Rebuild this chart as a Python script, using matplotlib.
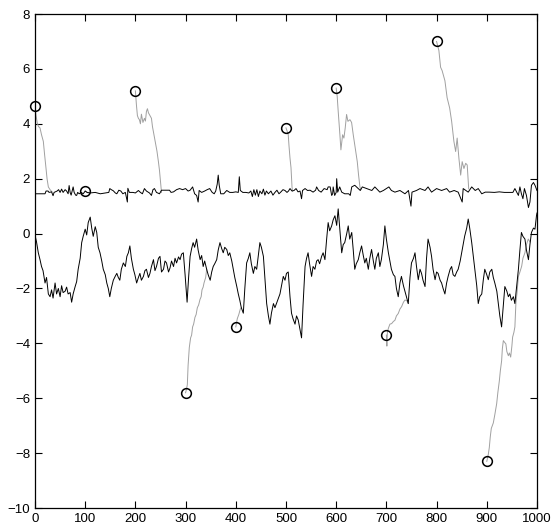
import matplotlib
matplotlib.use("Agg")
import matplotlib.pyplot as plt

# lower black trace (x, y)
lower = [
    (0, -0.05), (3, -0.3), (6.6, -0.7), (10, -0.95), (13, -1.2), (16, -1.35), (20, -1.8), (23, -1.6),
    (26.6, -2.2), (30, -2.3), (33, -2.05), (36, -2.35), (40, -1.8), (43, -2.2), (46.5, -2.0), (50, -2.3),
    (53, -1.9), (56, -2.15), (60, -2.1), (63, -1.95), (66, -2.2), (70, -2.15), (73, -2.5), (76, -2.2),
    (80, -1.93), (83, -1.75), (86, -1.3), (90, -0.9), (93, -0.33), (96, -0.1), (100, 0.16), (103, -0.05),
    (106, 0.4), (110, 0.6), (113, 0.2), (116, -0.1), (120, 0.25), (123, 0.04), (126, -0.5), (129.5, -0.7),
    (133, -1.0), (136, -1.3), (140, -1.5), (143, -1.8), (146, -2.0), (149, -2.3), (152, -2.0), (156, -1.7),
    (160, -1.55), (163, -1.45), (166, -1.6), (169, -1.7), (172, -1.3), (176, -1.07), (180, -1.2), (183, -0.83),
    (186, -0.7), (189, -0.45), (192, -0.9), (196, -1.3), (199, -1.5), (202.5, -1.8), (206, -1.6), (209, -1.45),
    (212, -1.7), (216, -1.56), (219, -1.35), (222, -1.3), (226, -1.6), (229, -1.45), (232, -1.2), (236, -0.95),
    (239, -1.35), (242, -1.2), (246, -0.9), (249, -0.83), (252, -1.4), (256, -1.3), (259, -1.0), (262, -1.07),
    (266, -1.4), (269, -1.25), (272, -1.0), (276, -1.2), (279, -0.9), (282, -1.07), (286, -0.85), (289, -0.95),
    (292, -0.75), (295.5, -0.7), (299, -1.5), (303, -2.5), (306, -1.6), (309, -0.83), (312, -0.55), (315, -0.33),
    (318, -0.5), (322, -0.2), (325, -0.6), (329, -0.95), (332, -0.8), (335, -1.2), (338, -1.0), (342, -1.3),
    (345, -1.5), (349, -1.7), (352, -1.4), (355, -1.2), (358, -1.1), (362, -0.95), (365, -0.6), (368.5, -0.33),
    (372, -0.55), (375, -0.7), (378, -0.5), (382, -0.58), (385, -0.8), (388, -0.7), (392, -1.0), (395, -1.3),
    (398, -1.6), (402, -1.93), (405, -2.2), (408, -2.43), (411, -2.7), (415, -2.9), (418, -2.0), (421.6, -1.07),
    (425, -0.9), (428, -0.7), (431, -1.1), (435, -1.45), (438, -1.2), (441.6, -1.3), (445, -0.8), (448, -0.33),
    (451, -0.5), (455, -0.83), (458, -1.6), (461.5, -2.55), (465, -3.0), (468, -3.3), (471, -2.9), (475, -2.55),
    (478, -2.7), (481, -2.55), (484, -2.4), (488, -2.2), (491, -1.9), (494.6, -1.56), (498, -1.7), (501, -1.45),
    (504.5, -1.4), (508, -2.3), (511, -2.9), (514, -3.1), (518, -3.3), (521, -3.0), (524.4, -3.15), (528, -3.5),
    (531, -3.8), (534, -2.6), (538, -1.2), (541, -0.9), (544, -0.7), (547, -1.1), (551, -1.56), (554, -1.2),
    (557.6, -1.3), (561, -1.0), (564, -0.95), (567, -1.1), (571, -0.83), (574, -0.7), (577.6, -0.95), (581, -0.2),
    (584, 0.4), (587, 0.1), (591, 0.28), (594, 0.5), (597.5, 0.65), (601, 0.3), (604, 0.9), (607, 0.2),
    (611, -0.7), (614, -0.4), (617, -0.33), (621, 0.0), (624, 0.28), (627, -0.2), (631, 0.04), (634, -0.6),
    (637, -1.3), (640, -1.1), (644, -0.95), (647, -0.7), (650.6, -0.45), (654, -0.8), (657, -1.07), (660, -0.9),
    (664, -1.3), (667, -0.9), (670.5, -0.58), (674, -1.0), (677, -1.3), (680, -0.9), (684, -0.7), (687, -1.2),
    (690, -0.95), (694, -0.4), (697, 0.28), (700, -0.2), (704, -0.7), (707, -1.0), (710, -1.3), (714, -1.5),
    (717, -1.56), (720, -2.0), (723.6, -2.3), (727, -1.8), (730, -1.56), (734, -1.9), (737, -2.1), (740, -2.3),
    (743.6, -2.55), (747, -1.6), (750, -1.07), (754, -0.9), (757, -0.7), (760, -1.2), (763.5, -1.68), (767, -1.3),
    (770, -1.45), (773, -1.7), (777, -1.93), (780, -0.9), (783, -0.2), (787, -0.5), (790, -0.83), (793, -1.3),
    (797, -1.68), (800, -1.4), (803, -1.45), (807, -1.7), (810, -1.8), (813, -2.0), (816.6, -2.2), (820, -1.8),
    (823, -1.56), (827, -1.3), (830, -1.2), (833, -1.5), (836.5, -1.56), (840, -1.4), (843, -1.3), (847, -1.0),
    (850, -0.7), (853, -0.4), (856, -0.09), (860, 0.2), (863, 0.53), (866, 0.2), (870, -0.33), (873, -0.8),
    (876, -1.3), (880, -1.9), (883, -2.55), (886, -2.3), (890, -2.2), (893, -1.7), (896, -1.3), (900, -1.5),
    (903, -1.68), (906, -1.4), (910, -1.3), (913, -1.6), (916, -1.8), (920, -2.1), (923, -2.55), (926, -3.0),
    (929.5, -3.4), (933, -2.6), (936, -1.93), (940, -2.1), (943, -2.3), (946, -2.2), (949, -2.43), (953, -2.3),
    (956, -2.55), (959, -2.0), (963, -1.3), (966, -0.6), (969, 0.04), (972, -0.1), (976, -0.2), (979, -0.6),
    (983, -0.95), (986, -0.4), (989, 0.04), (993, 0.2), (996, 0.16), (999, 0.65), (1000, 0.75),
]

# upper black trace (x, y), sits near 1.5
upper = [
    (0, 1.45), (20, 1.45), (22, 1.55), (26, 1.55), (28, 1.5), (33, 1.52), (36, 1.38), (38, 1.5), (44, 1.55),
    (47, 1.6), (50, 1.5), (53, 1.62), (56, 1.5), (60, 1.6), (63, 1.55), (66, 1.45), (68, 1.75), (70, 1.5),
    (72, 1.4), (74, 1.55), (76, 1.7), (78, 1.5), (81, 1.4), (83, 1.39), (85, 1.5), (88, 1.45), (92, 1.5),
    (96, 1.45), (100, 1.55), (104, 1.5), (110, 1.48), (120, 1.5), (130, 1.45), (140, 1.48), (147, 1.5),
    (149, 1.64), (152, 1.6), (156, 1.56), (160, 1.48), (163, 1.45), (167, 1.58), (171, 1.55), (175, 1.45),
    (180, 1.5), (184, 1.15), (185, 1.65), (188, 1.5), (195, 1.5), (200, 1.48), (206, 1.57), (210, 1.5),
    (214, 1.45), (218, 1.64), (222, 1.55), (228, 1.48), (232, 1.39), (235, 1.6), (238, 1.64), (242, 1.5),
    (248, 1.45), (252, 1.58), (260, 1.58), (268, 1.58), (271, 1.5), (276, 1.52), (282, 1.6), (288, 1.64),
    (294, 1.6), (300, 1.64), (305, 1.55), (309, 1.58), (314, 1.7), (318, 1.45), (322, 1.39), (325, 1.15),
    (327, 1.57), (332, 1.5), (338, 1.55), (343, 1.6), (348, 1.64), (353, 1.5), (357, 1.45), (360, 1.55),
    (363, 1.8), (365, 2.13), (367, 1.76), (370, 1.45), (376, 1.45), (382, 1.57), (388, 1.5), (394, 1.5),
    (400, 1.52), (405, 1.5), (407, 2.07), (409, 1.57), (414, 1.5), (420, 1.5), (426, 1.48), (430, 1.55),
    (433, 1.35), (436, 1.6), (439, 1.4), (442, 1.6), (445, 1.35), (448, 1.55), (452, 1.45), (455, 1.62),
    (458, 1.4), (461, 1.55), (465, 1.45), (470, 1.55), (474, 1.4), (478, 1.5), (482, 1.58), (486, 1.45),
    (490, 1.52), (494, 1.6), (498, 1.57), (502, 1.5), (505, 1.55), (508, 1.64), (512, 1.55), (516, 1.57),
    (520, 1.64), (524, 1.52), (528, 1.55), (531, 1.27), (533, 1.57), (538, 1.64), (543, 1.57), (548, 1.58),
    (554, 1.51), (559, 1.58), (561, 1.7), (565, 1.57), (570, 1.51), (576, 1.64), (582, 1.6), (584, 1.7),
    (588, 1.7), (591, 1.39), (593, 1.45), (594, 1.7), (597, 1.39), (600, 1.5), (601, 2.0), (603, 1.51),
    (607, 1.7), (611, 1.51), (617, 1.45), (625, 1.45), (628, 1.39), (631, 1.7), (637, 1.76), (644, 1.64),
    (648, 1.57), (652, 1.7), (661, 1.64), (671, 1.57), (677, 1.7), (687, 1.51), (694, 1.57), (705, 1.7),
    (710, 1.57), (717, 1.51), (727, 1.57), (737, 1.45), (744, 1.57), (749, 1.0), (751, 1.51), (760, 1.57),
    (767, 1.64), (777, 1.57), (783, 1.7), (790, 1.51), (800, 1.64), (810, 1.57), (820, 1.64), (826, 1.51),
    (835, 1.57), (843, 1.51), (851, 1.15), (853, 1.64), (863, 1.51), (870, 1.7), (877, 1.57), (883, 1.64),
    (890, 1.45), (897, 1.51), (905, 1.51), (915, 1.5), (925, 1.52), (935, 1.5), (945, 1.5), (952, 1.5),
    (956, 1.64), (963, 1.39), (966, 1.7), (969, 1.45), (972, 1.27), (975, 1.64), (979, 1.39), (983, 0.95),
    (986, 1.15), (989, 1.76), (993, 1.86), (996, 1.76), (1000, 1.57),
]

# gray trajectories, one per starting point
gray_0 = [(0, 4.65), (2, 4.3), (4.6, 4.03), (7, 3.9), (10, 3.85), (13, 3.6), (16.6, 3.36), (19, 2.9),
          (22, 2.37), (24, 2.0), (26.6, 1.7), (30, 1.6), (34, 1.52)]
gray_1 = [(100, 1.55), (103, 1.5), (106, 1.48)]
gray_2 = [(200, 5.2), (202, 4.7), (204, 4.3), (206, 4.2), (208, 4.15), (210, 4.0), (212, 4.35), (215, 4.05),
          (218, 4.2), (220, 4.1), (222, 4.45), (224, 4.55), (226, 4.4), (229, 4.3), (232, 4.2), (234, 3.9),
          (236, 3.7), (240, 3.3), (243, 3.0), (246, 2.6), (248, 2.3), (250, 1.9), (252, 1.5)]
gray_3 = [(300, -5.8), (302, -5.65), (303.5, -5.5), (305, -4.8), (307.4, -4.15), (310, -3.8), (312, -3.7),
          (314, -3.4), (316, -3.3), (318.7, -3.05), (321, -2.95), (323.4, -2.7), (326, -2.6), (328.7, -2.4),
          (331, -2.3), (332.7, -2.05), (335, -1.95), (336.7, -1.8), (340, -1.6), (342, -1.3)]
gray_4 = [(400, -3.4), (403, -3.1), (406, -2.95), (409, -2.75), (411, -2.7)]
gray_5 = [(500, 3.85), (502, 3.75), (504.5, 3.6), (506, 3.2), (508, 2.75), (510, 2.4), (512, 1.7), (513, 1.55)]
gray_6 = [(600, 5.3), (602, 5.0), (604, 4.46), (607.4, 3.6), (609.4, 3.05), (612.8, 3.6), (615.4, 3.48),
          (618, 3.85), (620.7, 4.34), (623.4, 4.09), (627.4, 4.15), (630.7, 4.05), (634, 3.6), (638, 3.11),
          (642, 2.62), (644.6, 2.13), (647.3, 1.7), (649, 1.6)]
gray_7 = [(700, -3.7), (701, -4.1), (702, -3.6), (704, -3.45), (707, -3.3), (710.5, -3.28), (714, -3.2),
          (717, -3.16), (720, -3.0), (723.7, -2.91), (727, -2.75), (730.4, -2.66), (734, -2.5), (737, -2.42),
          (741, -2.45), (743.6, -2.55)]
gray_8 = [(800, 7.0), (804.6, 6.67), (808, 6.06), (811, 5.94), (816.6, 5.57), (821, 4.95), (826, 4.58),
          (830, 4.09), (834.5, 3.36), (838, 2.99), (841, 3.48), (844.5, 2.74), (848, 2.13), (851, 2.62),
          (854.5, 2.37), (858, 2.56), (861, 2.5), (864, 1.63)]
gray_9 = [(900, -8.3), (903, -8.05), (905, -7.8), (907, -7.4), (909, -7.1), (913, -6.9), (916, -6.6),
          (919.7, -6.2), (922, -5.8), (925, -5.37), (927, -5.0), (929.6, -4.63), (931, -4.2), (933, -3.9),
          (935, -3.95), (938, -4.02), (940, -4.3), (943, -4.45), (945, -4.35), (947.6, -4.5), (950, -4.1),
          (951.5, -3.77), (954, -3.6), (956, -3.4), (958, -2.54), (960, -2.2), (963, -1.56), (966, -1.4),
          (969.5, -1.19), (972, -0.9), (976, -0.7), (979, -0.4), (982.7, -0.2), (986, -0.3)]
grays = [gray_0, gray_1, gray_2, gray_3, gray_4, gray_5, gray_6, gray_7, gray_8, gray_9]

# circles mark the starting points
start_x = [0, 100, 200, 300, 400, 500, 600, 700, 800, 900]
start_y = [4.65, 1.55, 5.2, -5.8, -3.4, 3.85, 5.3, -3.7, 7.0, -8.3]

plt.rcParams['font.family'] = ['Liberation Sans', 'DejaVu Sans']

fig = plt.figure(figsize=(5.59, 5.27), dpi=100)
ax = fig.add_axes([0.0626, 0.036, 0.898, 0.9374])

for g in grays:
    gx, gy = zip(*g)
    ax.plot(gx, gy, color='#a0a0a0', lw=0.7)

lx, ly = zip(*lower)
ax.plot(lx, ly, color='black', lw=0.7)
ux, uy = zip(*upper)
ax.plot(ux, uy, color='black', lw=0.7)

ax.plot(start_x, start_y, 'o', ms=7, mfc='none', mec='black', mew=1.1, clip_on=False)

ax.set_xlim(0, 1000)
ax.set_ylim(-10, 8)
ax.set_xticks(range(0, 1001, 100))
ax.set_yticks(range(-10, 9, 2))
ax.tick_params(direction='in', top=True, right=True, length=5, width=0.8, labelsize=9.5)
for s in ax.spines.values():
    s.set_linewidth(0.9)
ax.set_yticklabels([str(v).replace('-', '\u2212') for v in range(-10, 9, 2)])

fig.savefig('out.png', dpi=100)
